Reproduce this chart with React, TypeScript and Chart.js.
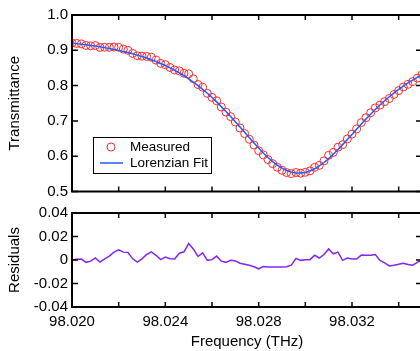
import React, { useEffect, useRef } from "react";
import { Chart, registerables } from "chart.js";

Chart.register(...registerables);

const FONT = "'Liberation Sans', Arial, Helvetica, sans-serif";
const RED = "#ff2a2a";
const BLUE = "#1f5cff";
const PURPLE = "#8426f0";

// Frequency samples (THz)
const frequency = [
  98.0200, 98.0202, 98.0204, 98.0206, 98.0208, 98.0210, 98.0212, 98.0214, 98.0216, 98.0218,
  98.0220, 98.0222, 98.0224, 98.0226, 98.0228, 98.0230, 98.0232, 98.0234, 98.0236, 98.0238,
  98.0240, 98.0242, 98.0244, 98.0246, 98.0248, 98.0250, 98.0252, 98.0254, 98.0256, 98.0258,
  98.0260, 98.0262, 98.0264, 98.0266, 98.0268, 98.0270, 98.0272, 98.0274, 98.0276, 98.0278,
  98.0280, 98.0282, 98.0284, 98.0286, 98.0288, 98.0290, 98.0292, 98.0294, 98.0296, 98.0298,
  98.0300, 98.0302, 98.0304, 98.0306, 98.0308, 98.0310, 98.0312, 98.0314, 98.0316, 98.0318,
  98.0320, 98.0322, 98.0324, 98.0326, 98.0328, 98.0330, 98.0332, 98.0334, 98.0336, 98.0338,
  98.0340, 98.0342, 98.0344, 98.0346, 98.0348, 98.0350,
];

// Measured transmittance
const measured = [
  0.9204, 0.9195, 0.9182, 0.9137, 0.9128, 0.9136, 0.9081, 0.9086, 0.9085, 0.9093,
  0.9084, 0.9035, 0.9000, 0.8912, 0.8847, 0.8834, 0.8827, 0.8803, 0.8722, 0.8630,
  0.8593, 0.8513, 0.8442, 0.8417, 0.8349, 0.8333, 0.8194, 0.8031, 0.7955, 0.7780,
  0.7666, 0.7571, 0.7395, 0.7248, 0.7121, 0.6969, 0.6799, 0.6640, 0.6480, 0.6317,
  0.6155, 0.6037, 0.5904, 0.5788, 0.5686, 0.5601, 0.5537, 0.5505, 0.5538, 0.5519,
  0.5544, 0.5585, 0.5684, 0.5741, 0.5868, 0.6026, 0.6108, 0.6255, 0.6325, 0.6489,
  0.6626, 0.6773, 0.6952, 0.7092, 0.7230, 0.7370, 0.7447, 0.7546, 0.7635, 0.7749,
  0.7858, 0.7960, 0.8036, 0.8113, 0.8212, 0.8305,
];

// Lorenzian fit
const lorentzianFit = [
  0.9204, 0.9189, 0.9174, 0.9157, 0.9138, 0.9119, 0.9098, 0.9076, 0.9052, 0.9026,
  0.8998, 0.8968, 0.8936, 0.8902, 0.8864, 0.8824, 0.8780, 0.8733, 0.8682, 0.8627,
  0.8568, 0.8503, 0.8434, 0.8359, 0.8279, 0.8193, 0.8100, 0.8001, 0.7895, 0.7783,
  0.7663, 0.7538, 0.7405, 0.7268, 0.7124, 0.6977, 0.6827, 0.6676, 0.6524, 0.6375,
  0.6230, 0.6093, 0.5964, 0.5848, 0.5746, 0.5661, 0.5595, 0.5549, 0.5524, 0.5522,
  0.5541, 0.5582, 0.5644, 0.5724, 0.5821, 0.5932, 0.6055, 0.6188, 0.6328, 0.6472,
  0.6618, 0.6765, 0.6910, 0.7052, 0.7190, 0.7323, 0.7450, 0.7571, 0.7685, 0.7793,
  0.7894, 0.7988, 0.8075, 0.8157, 0.8232, 0.8302,
];

// Residuals
const residuals = [
  0.0000, 0.0006, 0.0008, -0.0020, -0.0010, 0.0017, -0.0017, 0.0010, 0.0033, 0.0067,
  0.0086, 0.0067, 0.0064, 0.0010, -0.0017, 0.0010, 0.0047, 0.0070, 0.0040, 0.0003,
  0.0025, 0.0010, 0.0008, 0.0058, 0.0070, 0.0140, 0.0094, 0.0030, 0.0060, -0.0003,
  0.0003, 0.0033, -0.0010, -0.0020, -0.0003, -0.0008, -0.0028, -0.0036, -0.0044, -0.0058,
  -0.0075, -0.0056, -0.0060, -0.0060, -0.0060, -0.0060, -0.0058, -0.0044, 0.0014, -0.0003,
  0.0003, 0.0003, 0.0040, 0.0017, 0.0047, 0.0094, 0.0053, 0.0067, -0.0003, 0.0017,
  0.0008, 0.0008, 0.0042, 0.0040, 0.0040, 0.0047, -0.0003, -0.0025, -0.0050, -0.0044,
  -0.0036, -0.0028, -0.0039, -0.0044, -0.0020, 0.0003,
];

const xTickValues = [98.020, 98.022, 98.024, 98.026, 98.028, 98.030, 98.032, 98.034];
const xTickLabels = ["98.020", "", "98.024", "", "98.028", "", "98.032", ""];
const topYTickValues = [0.5, 0.6, 0.7, 0.8, 0.9, 1.0];
const topYTickLabels = ["0.5", "0.6", "0.7", "0.8", "0.9", "1.0"];
const resYTickValues = [-0.04, -0.02, 0, 0.02, 0.04];
const resYTickLabels = ["-0.04", "-0.02", "0", "0.02", "0.04"];

const X_MIN = 98.020;
const X_MAX = 98.035;

Chart.defaults.font.family = FONT;

function framePlugin(yValues: number[]) {
  return {
    id: "frame",
    afterDatasetsDraw(chart: any) {
      const { ctx, chartArea: a, scales } = chart;
      const xs = scales.x;
      const ys = scales.y;
      ctx.save();
      ctx.strokeStyle = "#000";
      ctx.lineWidth = 1.5;
      ctx.beginPath();
      for (const v of xTickValues) {
        const px = xs.getPixelForValue(v);
        ctx.moveTo(px, a.bottom);
        ctx.lineTo(px, a.bottom - 5);
        ctx.moveTo(px, a.top);
        ctx.lineTo(px, a.top + 5);
      }
      for (const v of yValues) {
        const py = ys.getPixelForValue(v);
        ctx.moveTo(a.left, py);
        ctx.lineTo(a.left + 6, py);
        ctx.moveTo(a.right, py);
        ctx.lineTo(a.right - 6, py);
      }
      ctx.stroke();
      ctx.lineWidth = 2;
      ctx.strokeRect(a.left, a.top, a.right - a.left, a.bottom - a.top);
      ctx.restore();
    },
  };
}

const legendPlugin = {
  id: "boxLegend",
  afterDraw(chart: any) {
    const { ctx, chartArea: a } = chart;
    const left = a.left + 21;
    const top = a.top + 122;
    const w = 118;
    const h = 36;
    ctx.save();
    ctx.fillStyle = "#fff";
    ctx.fillRect(left, top, w, h);
    ctx.strokeStyle = "#000";
    ctx.lineWidth = 1;
    ctx.strokeRect(left + 0.5, top + 0.5, w, h);
    ctx.strokeStyle = RED;
    ctx.lineWidth = 1;
    ctx.beginPath();
    ctx.arc(left + 18, top + 10, 4, 0, Math.PI * 2);
    ctx.stroke();
    ctx.strokeStyle = BLUE;
    ctx.lineWidth = 1.5;
    ctx.beginPath();
    ctx.moveTo(left + 7, top + 26);
    ctx.lineTo(left + 30, top + 26);
    ctx.stroke();
    ctx.fillStyle = "#000";
    ctx.font = `13.5px ${FONT}`;
    ctx.textBaseline = "middle";
    ctx.textAlign = "left";
    ctx.fillText("Measured", left + 37, top + 10);
    ctx.fillText("Lorenzian Fit", left + 37, top + 26);
    ctx.restore();
  },
};

const tickFont = { family: FONT, size: 15 };

export default function App() {
  const topRef = useRef<HTMLCanvasElement | null>(null);
  const botRef = useRef<HTMLCanvasElement | null>(null);

  useEffect(() => {
    const top = new Chart(topRef.current as HTMLCanvasElement, {
      type: "line",
      data: {
        datasets: [
          {
            label: "Lorenzian Fit",
            data: frequency.map((f, i) => ({ x: f, y: lorentzianFit[i] })),
            borderColor: BLUE,
            borderWidth: 1.5,
            pointRadius: 0,
            fill: false,
            tension: 0,
            order: 0,
          },
          {
            label: "Measured",
            data: frequency.map((f, i) => ({ x: f, y: measured[i] })),
            showLine: false,
            pointRadius: 4,
            pointStyle: "circle",
            pointBorderColor: RED,
            pointBackgroundColor: "rgba(0,0,0,0)",
            pointBorderWidth: 1,
            borderColor: RED,
            order: 1,
          },
        ],
      },
      options: {
        animation: false,
        responsive: false,
        maintainAspectRatio: false,
        events: [],
        layout: { padding: { left: 0, top: 15, right: 18, bottom: 13.5 } },
        plugins: { legend: { display: false }, tooltip: { enabled: false } },
        scales: {
          x: { type: "linear", min: X_MIN, max: X_MAX, display: false },
          y: {
            type: "linear",
            min: 0.5,
            max: 1.0,
            afterBuildTicks: (s: any) => {
              s.ticks = topYTickValues.map((v) => ({ value: v }));
            },
            afterFit: (s: any) => {
              s.width = 72;
            },
            grid: { display: false, drawTicks: false },
            border: { display: false },
            ticks: {
              padding: 4,
              color: "#000",
              font: tickFont,
              callback: (_v: any, i: number) => topYTickLabels[i],
            },
            title: {
              display: true,
              text: "Transmittance",
              color: "#000",
              font: tickFont,
              padding: { top: 6, bottom: 0 },
            },
          },
        },
      },
      plugins: [framePlugin(topYTickValues), legendPlugin],
    } as any);

    const bot = new Chart(botRef.current as HTMLCanvasElement, {
      type: "line",
      data: {
        datasets: [
          {
            label: "Residuals",
            data: frequency.map((f, i) => ({ x: f, y: residuals[i] })),
            borderColor: PURPLE,
            borderWidth: 1.5,
            pointRadius: 0,
            fill: false,
            tension: 0,
          },
        ],
      },
      options: {
        animation: false,
        responsive: false,
        maintainAspectRatio: false,
        events: [],
        layout: { padding: { left: 0, top: 10, right: 18, bottom: 0 } },
        plugins: { legend: { display: false }, tooltip: { enabled: false } },
        scales: {
          x: {
            type: "linear",
            min: X_MIN,
            max: X_MAX,
            afterBuildTicks: (s: any) => {
              s.ticks = xTickValues.map((v) => ({ value: v }));
            },
            afterFit: (s: any) => {
              s.height = 44;
            },
            grid: { display: false, drawTicks: false },
            border: { display: false },
            ticks: {
              autoSkip: false,
              maxRotation: 0,
              padding: 6,
              color: "#000",
              font: tickFont,
              callback: (_v: any, i: number) => xTickLabels[i],
            },
            title: {
              display: true,
              text: "Frequency (THz)",
              color: "#000",
              font: tickFont,
              padding: { top: 0, bottom: 0 },
            },
          },
          y: {
            type: "linear",
            min: -0.04,
            max: 0.04,
            afterBuildTicks: (s: any) => {
              s.ticks = resYTickValues.map((v) => ({ value: v }));
            },
            afterFit: (s: any) => {
              s.width = 72;
            },
            grid: { display: false, drawTicks: false },
            border: { display: false },
            ticks: {
              padding: 4,
              color: "#000",
              font: tickFont,
              callback: (_v: any, i: number) => resYTickLabels[i],
            },
            title: {
              display: true,
              text: "Residuals",
              color: "#000",
              font: tickFont,
              padding: { top: 6, bottom: 0 },
            },
          },
        },
      },
      plugins: [framePlugin(resYTickValues)],
    } as any);

    return () => {
      top.destroy();
      bot.destroy();
    };
  }, []);

  return (
    <div
      style={{
        position: "fixed",
        left: 0,
        top: 0,
        width: 420,
        height: 351,
        overflow: "hidden",
        background: "#fff",
      }}
    >
      <canvas
        ref={topRef}
        width={440}
        height={205}
        style={{ position: "absolute", left: 0, top: 0, width: 440, height: 205 }}
      />
      <canvas
        ref={botRef}
        width={440}
        height={151}
        style={{ position: "absolute", left: 0, top: 200, width: 440, height: 151 }}
      />
    </div>
  );
}
